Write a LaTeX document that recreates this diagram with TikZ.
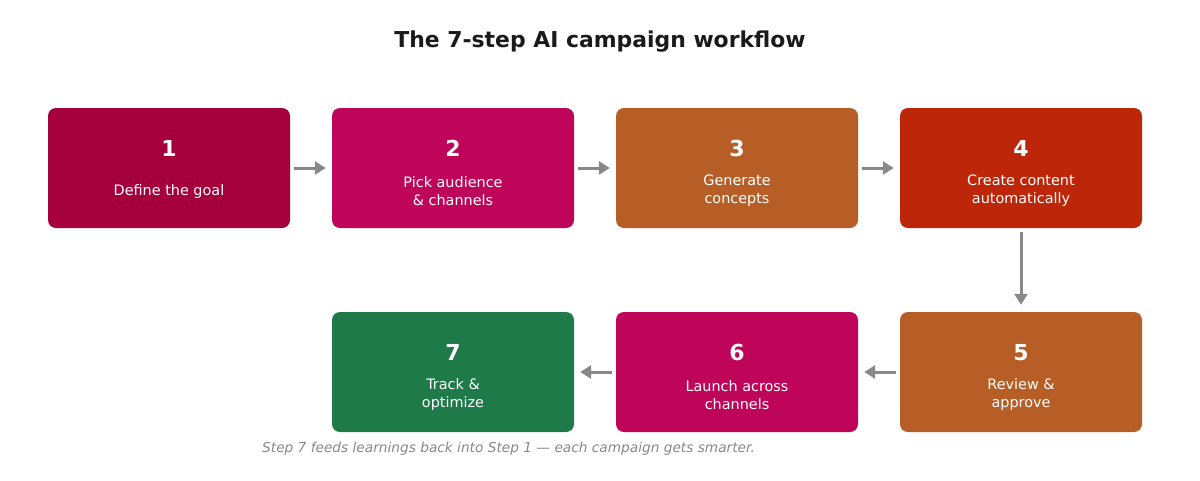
\documentclass[tikz,border=0pt]{standalone}
\usepackage{fontspec}
\setmainfont{DejaVu Sans}
\usetikzlibrary{arrows.meta}
\definecolor{cA}{HTML}{A5003C}
\definecolor{cB}{HTML}{BE055A}
\definecolor{cC}{HTML}{B65E26}
\definecolor{cD}{HTML}{BE260A}
\definecolor{cG}{HTML}{1E7A48}
\definecolor{arr}{HTML}{888888}
\definecolor{ttl}{HTML}{1A1A1A}
\begin{document}
\begin{tikzpicture}[x=1pt,y=-1pt,
  stepbox/.style={rounded corners=8pt, minimum width=242pt, minimum height=120pt, inner sep=0pt, draw=none, text=white, align=center},
  conn/.style={draw=arr, line width=3pt, -{Triangle[length=11pt,width=13pt]}},
  num/.style={font=\bfseries\fontsize{22}{26}\selectfont},
  lab/.style={font=\fontsize{14.4}{18}\selectfont}]
\useasboundingbox (0,0) rectangle (1200,480);
\node[font=\bfseries\fontsize{21.9}{26}\selectfont, text=ttl] (title) at (600,41.5) {The 7-step AI campaign workflow};
\node[stepbox, fill=cA] (s1) at (169,168) {};
\node[stepbox, fill=cB] (s2) at (453,168) {};
\node[stepbox, fill=cC] (s3) at (737,168) {};
\node[stepbox, fill=cD] (s4) at (1021,168) {};
\node[stepbox, fill=cC] (s5) at (1021,372) {};
\node[stepbox, fill=cB] (s6) at (737,372) {};
\node[stepbox, fill=cG] (s7) at (453,372) {};
% numbers
\node[num, text=white] (n1) at (169,148.5) {1};
\node[num, text=white] (n2) at (453,148.5) {2};
\node[num, text=white] (n3) at (737,148.5) {3};
\node[num, text=white] (n4) at (1021,148.5) {4};
\node[num, text=white] (n5) at (1021,352.5) {5};
\node[num, text=white] (n6) at (737,352.5) {6};
\node[num, text=white] (n7) at (453,352.5) {7};
% labels
\node[lab, text=white, align=center] (l1) at (169,192) {Define the goal};
\node[lab, text=white, align=center] (l2) at (453,191) {Pick audience\\\& channels};
\node[lab, text=white, align=center] (l3) at (737,191) {Generate\\concepts};
\node[lab, text=white, align=center] (l4) at (1021,191) {Create content\\automatically};
\node[lab, text=white, align=center] (l5) at (1021,395) {Review \&\\approve};
\node[lab, text=white, align=center] (l6) at (737,395) {Launch across\\channels};
\node[lab, text=white, align=center] (l7) at (453,395) {Track \&\\optimize};
% connectors
\draw[conn] ([xshift=4pt]s1.east) -- ([xshift=-6pt]s2.west);
\draw[conn] ([xshift=4pt]s2.east) -- ([xshift=-6pt]s3.west);
\draw[conn] ([xshift=4pt]s3.east) -- ([xshift=-6pt]s4.west);
\draw[conn] ([yshift=-4pt]s4.south) -- ([yshift=7pt]s5.north);
\draw[conn] ([xshift=-4pt]s5.west) -- ([xshift=6pt]s6.east);
\draw[conn] ([xshift=-4pt]s6.west) -- ([xshift=6pt]s7.east);
\node[anchor=west, font=\itshape\fontsize{13.7}{16}\selectfont, text=arr, inner sep=0pt] (foot) at (262,449) {Step 7 feeds learnings back into Step 1 — each campaign gets smarter.};
\end{tikzpicture}
\end{document}
